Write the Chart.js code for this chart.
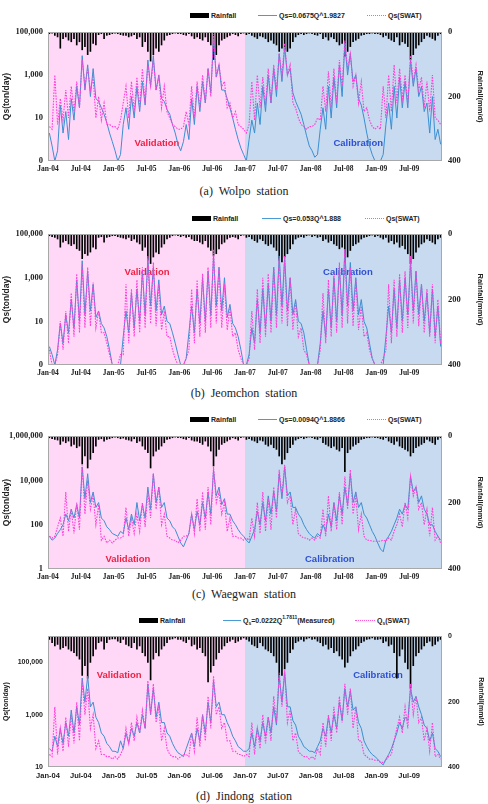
<!DOCTYPE html>
<html><head><meta charset="utf-8">
<script src="https://cdn.jsdelivr.net/npm/chart.js@4.4.0/dist/chart.umd.min.js"></script>
<style>
body{margin:0;background:#fff;width:488px;height:804px;position:relative;overflow:hidden;font-family:"Liberation Sans",Arial,sans-serif}
canvas{position:absolute;left:0}
.lg{position:absolute;font:bold 7px "Liberation Sans",Arial,sans-serif;color:#222;white-space:nowrap;line-height:9px;transform:translateY(-50%)}
.sw{position:absolute}
.cap{position:absolute;left:0;width:488px;text-align:center;font:12px "Liberation Serif","Times New Roman",serif;word-spacing:3px;color:#222;line-height:14px;transform:translateY(-50%)}
sub,sup{font-size:5px;line-height:0}
</style></head><body>
<script>
// ---------- DATA (semi-monthly, Jan-2004 .. Dec-2009) ----------
const xTickLabels = ['Jan-04','Jul-04','Jan-05','Jul-05','Jan-06','Jul-06','Jan-07','Jul-07','Jan-08','Jul-08','Jan-09','Jul-09'];
const calibrationStartMonth = 36;
const rainTicks = [0,200,400];

// (a) Wolpo
const rainA = [
5,3,10,15,50,20,15,25,30,20,40,30,55,45,70,60,35,40,8,5,20,10,8,5,
3,5,8,10,10,15,12,8,20,15,45,30,60,90,70,50,60,40,25,10,8,5,3,5,
5,8,10,5,12,20,15,20,25,15,30,40,85,70,40,25,20,15,10,5,8,12,5,3,
8,5,10,15,20,12,15,20,30,25,35,40,60,50,55,60,50,30,15,8,5,8,5,3,
5,8,10,5,20,15,25,15,20,30,40,35,75,60,45,30,25,20,10,8,5,5,3,5,
5,8,15,10,20,25,30,15,40,30,35,45,85,70,50,40,30,20,10,15,20,25,10,5];
const measA = [
2,0.5,0.1,0.3,40,2,20,1,80,8,300,30,8000,200,3000,100,2000,80,60,30,15,6,2,0.8,
0.3,0.1,0.2,5,30,3,100,10,300,20,500,40,5000,300,8000,200,1000,80,60,25,15,5,2,0.6,
0.3,0.8,5,1,80,5,300,20,500,50,2000,150,50000,800,3000,200,200,80,30,10,3,1,0.4,0.2,
0.1,1,8,2,50,5,300,20,1000,50,2000,100,10000,500,20000,1000,2000,150,60,30,15,5,1.5,0.5,
0.3,0.15,0.2,3,30,3,300,10,800,30,3000,100,30000,1000,10000,500,1000,80,40,10,2,0.5,0.2,0.1,
0.1,0.1,0.2,5,50,3,300,10,800,30,500,30,5000,300,2000,100,300,20,50,2,100,1,3,0.6];
const swatA = [
4,3,1000,5,80,8,200,10,300,20,500,30,5000,300,2000,200,800,10,100,8,50,5,5,4,
4,3,8,50,300,10,500,20,800,30,2000,50,3000,300,5000,200,800,30,300,20,10,5,4,3,
3,4,20,5,300,10,500,30,1000,50,2000,100,80000,800,3000,300,500,30,50,10,20,5,4,3,
2,5,500,8,1000,30,800,40,2000,50,3000,200,10000,1000,30000,1000,3000,50,30,10,5,4,3,4,
4,5,10,8,300,20,1500,30,2000,50,5000,300,40000,2000,10000,300,1000,50,500,20,30,8,4,3,
4,3,300,10,1000,20,3000,50,2000,80,1000,50,8000,500,3000,200,800,30,500,20,1000,10,8,5];

// (b) Jeomchon
const rainB = [
5,8,10,15,40,25,20,30,35,30,45,50,75,60,65,55,40,45,10,8,25,10,8,5,
5,8,10,12,15,10,20,15,25,30,50,40,80,90,70,55,60,40,30,15,10,5,3,5,
8,5,10,8,15,20,20,25,30,20,40,50,65,60,45,30,25,15,10,8,10,15,5,3,
10,8,15,20,25,15,20,30,35,30,40,50,80,85,70,60,45,30,15,10,8,10,5,3,
8,5,10,8,20,15,25,20,30,35,45,40,85,70,50,35,30,25,15,10,8,5,3,8,
5,10,15,10,25,20,30,25,40,35,45,60,90,75,55,40,30,25,15,20,25,30,15,10];
const measB = [
0.7,0.3,0.1,0.5,8,1,20,3,100,5,800,10,6000,20,2000,30,500,15,30,8,5,2,0.5,0.1,
0.1,0.1,0.1,2,30,3,200,5,300,10,2000,20,8000,50,3000,30,800,20,50,10,8,3,1,0.3,
0.1,0.1,0.2,3,50,3,300,8,1000,10,2000,20,10000,50,3000,30,1000,15,60,8,5,2,0.5,0.1,
0.1,0.3,5,1,100,3,300,5,500,10,3000,20,10000,50,8000,30,1000,20,100,10,8,3,0.5,0.1,
0.1,0.1,0.1,1,30,2,300,5,1000,10,3000,20,20000,50,5000,30,1000,20,100,10,5,1,0.2,0.1,
0.1,0.1,0.1,2,50,3,300,5,800,10,1000,20,5000,30,2000,20,500,10,200,3,300,2,50,0.7];
const swatB = [
0.5,0.1,0.1,0.3,10,0.5,30,1,200,2,1500,3,4000,5,3000,6,600,5,30,3,3,1,0.3,0.1,
0.1,0.1,0.3,0.3,500,1,300,2,800,3,3000,5,10000,8,5000,6,500,4,30,2,2,0.5,0.2,0.1,
0.1,0.1,0.2,0.5,300,1,800,2,1500,3,3000,5,20000,8,3000,5,500,4,40,2,3,0.5,0.2,0.1,
0.1,0.2,30,0.5,300,1,1000,2,1500,3,3000,5,8000,8,10000,6,1000,4,80,2,5,0.5,0.3,0.1,
0.1,0.1,0.1,0.5,200,1,800,2,1500,3,5000,5,20000,8,3000,6,800,4,50,2,3,0.5,0.2,0.1,
0.1,0.1,0.2,0.5,500,1,800,2,1500,3,2000,5,10000,8,2000,6,500,3,300,2,500,1,100,1];

// (c) Waegwan
const rainC = [
5,8,10,12,25,15,20,15,30,25,35,30,84,60,96,70,50,30,10,8,15,10,8,5,
3,5,8,6,10,12,15,8,20,15,30,40,50,96,60,45,40,30,20,10,8,5,3,5,
5,8,10,5,12,15,15,20,25,15,30,45,90,60,40,25,20,15,10,5,8,12,5,3,
10,8,12,15,20,12,15,25,30,25,35,40,60,84,70,50,35,25,12,8,5,8,5,3,
5,8,10,5,20,25,30,35,30,40,45,35,107,50,40,30,25,20,10,8,5,5,3,5,
5,8,10,5,15,20,25,15,30,35,40,45,60,50,35,30,25,20,10,15,20,25,10,5];
const measC = [
30,20,25,40,60,100,300,150,500,200,800,200,40000,1500,20000,1000,3000,600,1000,200,150,80,60,40,
35,30,50,40,200,60,300,100,1000,150,800,200,5000,500,20000,1000,5000,600,1000,200,150,80,60,30,
15,10,20,40,300,60,400,100,1000,200,3000,300,30000,2000,5000,800,1500,300,300,150,100,60,40,30,
20,15,30,60,400,100,1000,150,2000,300,3000,400,20000,1500,40000,2000,3000,600,600,300,200,100,60,40,
30,25,40,30,100,50,300,80,1000,150,2000,300,5000,800,20000,1000,3000,600,1000,300,200,100,50,30,
15,8,6,20,30,50,100,200,500,300,800,500,15000,3000,5000,1000,2000,500,300,100,100,50,30,20];
const swatC = [
30,25,30,80,200,30,3000,50,500,40,1000,60,50000,300,10000,500,2000,100,800,20,30,15,20,15,
20,25,25,30,600,30,200,40,300,50,1000,80,3000,200,20000,500,5000,100,300,30,25,20,20,15,
20,30,30,40,300,40,1500,50,3000,60,5000,100,40000,1000,3000,300,1000,50,200,30,30,25,25,20,
25,20,200,30,1000,40,3000,50,1500,60,5000,200,30000,2000,50000,1000,2000,100,500,40,30,25,25,20,
25,20,30,25,500,30,2000,50,1000,60,3000,100,15000,500,30000,300,2000,60,300,30,20,20,18,18,
18,18,20,18,25,20,50,100,300,80,1000,200,15000,2000,5000,500,1000,100,500,30,600,20,30,15];

// (d) Jindong
const rainD = [
10,20,30,25,40,35,30,40,45,50,60,70,120,90,128,80,60,40,20,15,40,20,10,8,
8,15,20,10,25,30,35,20,40,30,50,60,80,134,70,50,60,40,30,20,10,8,5,10,
10,15,20,10,30,25,40,35,50,60,140,110,90,70,50,40,30,20,15,10,20,15,10,5,
10,15,25,30,35,20,30,40,45,50,60,80,140,120,100,80,50,40,20,15,10,15,8,5,
10,8,15,20,30,25,40,35,50,45,60,70,95,80,60,45,40,30,20,15,10,8,5,10,
10,8,20,15,30,25,50,128,60,40,80,100,159,90,60,50,40,30,20,15,30,25,15,10];
const measD = [
50,40,150,60,300,80,500,150,1500,200,2000,400,25000,3000,30000,2000,3000,800,500,200,150,80,60,40,
40,35,100,50,200,80,300,150,500,200,1000,300,15000,1000,10000,800,3000,500,500,200,150,80,50,35,
30,25,50,100,200,60,300,100,1000,200,3000,500,20000,2000,3000,1000,1000,500,300,150,100,60,50,40,
40,50,200,60,300,100,500,150,800,200,2000,400,30000,3000,40000,2000,2000,600,400,150,100,60,50,40,
40,35,60,100,300,150,800,200,1000,300,3000,600,10000,2000,8000,1500,2000,500,300,100,60,40,30,25,
20,15,12,20,30,50,100,200,500,300,800,600,10000,3000,5000,2000,1000,400,300,100,200,50,40,25];
const swatD = [
30,25,2000,30,300,40,800,60,1000,80,3000,100,20000,1000,10000,300,1000,50,100,30,30,25,25,20,
25,20,30,50,300,80,500,100,800,200,1500,300,20000,1000,15000,500,2000,100,300,50,30,25,25,20,
25,30,30,25,200,40,800,60,1000,100,5000,300,30000,1000,2000,300,500,100,100,40,40,30,30,25,
30,25,500,30,300,50,1000,80,800,100,5000,500,40000,2000,50000,500,1500,100,200,40,30,25,25,20,
25,20,50,30,500,60,1000,100,2000,200,5000,500,15000,1000,10000,300,2000,100,100,30,25,20,20,18,
18,15,15,18,25,30,100,300,800,200,2000,300,15000,1000,5000,500,800,100,300,40,500,25,30,20];

const tickA = [0.1,10,1000,100000];
const tickC = [1,100,10000,1000000];
const tickD = [10,1000,100000];

// ---------- LAYOUT ----------
const SERIF = '"Liberation Serif","Times New Roman",serif';
const SANS = '"Liberation Sans",Arial,sans-serif';
const panels = [
 {rain:rainA, meas:measA, swat:swatA, yMin:0.1, yMax:1e5, yTicks:tickA, top:21, h:160,
  ann:{vx:19.9, cx:56.7, ty:0.86}, tickFont:{family:SERIF,size:8.5,weight:'bold'}, xFont:{family:SERIF,size:7.5,weight:'bold'},
  titleFont:{family:SANS,size:8.5,weight:'bold'}, rTitleFont:{family:SANS,size:7.5,weight:'bold'},
  legendY:15, leg:[190,211,258,279,367,388], measText:'Qs=0.0675Q^1.9827', swatText:'Qs(SWAT)',
  cap:'(a) Wolpo station', capY:191},
 {rain:rainB, meas:measB, swat:swatB, yMin:0.1, yMax:1e5, yTicks:tickA, top:223, h:162,
  ann:{vx:18.1, cx:54.8, ty:0.29}, tickFont:{family:SERIF,size:8.5,weight:'bold'}, xFont:{family:SERIF,size:7.5,weight:'bold'},
  titleFont:{family:SANS,size:8.5,weight:'bold'}, rTitleFont:{family:SANS,size:7.5,weight:'bold'},
  legendY:218, leg:[192,213,262,283,365,386], measText:'Qs=0.053Q^1.888', swatText:'Qs(SWAT)',
  cap:'(b) Jeomchon station', capY:393},
 {rain:rainC, meas:measC, swat:swatC, yMin:1, yMax:1e6, yTicks:tickC, top:425, h:164,
  ann:{vx:14.6, cx:51.5, ty:0.925}, tickFont:{family:SERIF,size:8.5,weight:'bold'}, xFont:{family:SERIF,size:7.5,weight:'bold'},
  titleFont:{family:SANS,size:8.5,weight:'bold'}, rTitleFont:{family:SANS,size:7.5,weight:'bold'},
  legendY:419, leg:[190,211,258,279,367,388], measText:'Qs=0.0094Q^1.8866', swatText:'Qs(SWAT)',
  cap:'(c) Waegwan station', capY:594},
 {rain:rainD, meas:measD, swat:swatD, yMin:10, yMax:1e6, yTicks:tickD, top:626, h:161,
  ann:{vx:13.0, cx:60.3, ty:0.30}, tickFont:{family:SANS,size:7,weight:'bold'}, xFont:{family:SANS,size:7.5,weight:'bold'},
  titleFont:{family:SANS,size:7,weight:'bold'}, rTitleFont:{family:SANS,size:7,weight:'bold'},
  legendY:620, leg:[139,160,223,243,355,377], measText:'Q<sub>s</sub>=0.0222Q<sup>1.7811</sup>(Measured)', swatText:'Q<sub>s</sub>(SWAT)',
  cap:'(d) Jindong station', capY:796}
];

function fmtTick(v){ return v < 1 ? '0' : Number(v).toLocaleString('en-US'); }

const bgPlugin = {
  id:'bg',
  beforeDatasetsDraw(chart, args, o){
    const {ctx, chartArea:a, scales} = chart;
    const xs = scales.x.getPixelForValue(calibrationStartMonth);
    ctx.save();
    ctx.fillStyle = '#FFD8F8'; ctx.fillRect(a.left, a.top, xs - a.left, a.bottom - a.top);
    ctx.fillStyle = '#C7DAEF'; ctx.fillRect(xs, a.top, a.right - xs, a.bottom - a.top);
    ctx.font = 'bold 9.5px ' + SANS; ctx.textAlign = 'center'; ctx.textBaseline = 'middle';
    const ty = a.top + o.ty * (a.bottom - a.top);
    ctx.fillStyle = '#EE2244'; ctx.fillText('Validation', scales.x.getPixelForValue(o.vx), ty);
    ctx.fillStyle = '#2F50D2'; ctx.fillText('Calibration', scales.x.getPixelForValue(o.cx), ty);
    ctx.restore();
  },
  afterDraw(chart){
    const {ctx, chartArea:a} = chart;
    ctx.save(); ctx.strokeStyle = '#A8A8A8'; ctx.lineWidth = 1;
    ctx.strokeRect(Math.round(a.left)+0.5, Math.round(a.top)+0.5, Math.round(a.right-a.left)-1, Math.round(a.bottom-a.top)-1);
    ctx.restore();
  }
};

function el(tag, cls, style, html){
  const e = document.createElement(tag); if (cls) e.className = cls;
  Object.assign(e.style, style); if (html !== undefined) e.innerHTML = html;
  document.body.appendChild(e); return e;
}

panels.forEach(p => {
  const [rx, rtx, bx, btx, mx, mtx] = p.leg;
  const y = p.legendY;
  el('div','sw',{left:rx+'px', top:(y-2.5)+'px', width:(rtx-rx-2)+'px', height:'5px', background:'#000'});
  el('div','lg',{left:rtx+'px', top:y+'px'}, 'Rainfall');
  el('div','sw',{left:bx+'px', top:y+'px', width:(btx-bx-2)+'px', height:'0', borderTop:'1px solid #4A9AD6'});
  el('div','lg',{left:btx+'px', top:y+'px'}, p.measText);
  el('div','sw',{left:mx+'px', top:y+'px', width:(mtx-mx-2)+'px', height:'0', borderTop:'1px dotted #FF55DD'});
  el('div','lg',{left:mtx+'px', top:y+'px'}, p.swatText);
  el('div','cap',{top:p.capY+'px'}, p.cap);

  const c = document.createElement('canvas');
  c.width = 488; c.height = p.h; c.style.top = p.top + 'px';
  document.body.appendChild(c);
  const pts = arr => arr.map((v, i) => ({x: i * 0.5 + 0.25, y: v}));
  new Chart(c, {
    type:'line',
    data:{datasets:[
      {type:'line', label:'Qs(SWAT)', data:pts(p.swat), yAxisID:'y', borderColor:'#FF3FD8', borderWidth:1.1, borderDash:[1.6,1.2], pointRadius:0, tension:0, order:0},
      {type:'line', label:'Measured', data:pts(p.meas), yAxisID:'y', borderColor:'#3C8FD2', borderWidth:1, pointRadius:0, tension:0, order:1},
      {type:'bar', label:'Rainfall', data:pts(p.rain), yAxisID:'y1', backgroundColor:'#000', barThickness:1, order:2}
    ]},
    options:{
      responsive:false, animation:false, devicePixelRatio:1,
      layout:{padding:{top:10, bottom:0, left:0, right:0}},
      plugins:{legend:{display:false}, tooltip:{enabled:false}, bg:p.ann},
      scales:{
        x:{type:'linear', min:0, max:72, offset:false,
           grid:{display:false, drawTicks:false, offset:false}, border:{display:false},
           ticks:{stepSize:6, autoSkip:false, maxRotation:0, padding:4, color:'#222', font:p.xFont,
                  callback:v => xTickLabels[Math.round(v/6)] ?? ''},
           afterFit:s => { s.height = 20; }},
        y:{type:'logarithmic', position:'left', min:p.yMin, max:p.yMax,
           grid:{display:false, drawTicks:false}, border:{display:false},
           afterBuildTicks:s => { s.ticks = p.yTicks.map(v => ({value:v})); },
           ticks:{padding:5, color:'#222', font:p.tickFont, callback:v => fmtTick(v)},
           title:{display:true, text:'Qs(ton/day)', color:'#222', font:p.titleFont, padding:{top:2, bottom:0}},
           afterFit:s => { s.width = 48; }},
        y1:{type:'linear', position:'right', reverse:true, min:0, max:400,
           grid:{display:false, drawTicks:false}, border:{display:false},
           afterBuildTicks:s => { s.ticks = rainTicks.map(v => ({value:v})); },
           ticks:{padding:6, color:'#222', font:p.tickFont},
           title:{display:true, text:'Rainfall(mm/d)', color:'#222', font:p.rTitleFont, padding:{top:3, bottom:0}},
           afterFit:s => { s.width = 46; }}
      }
    },
    plugins:[bgPlugin]
  });
});
</script>
</body></html>
